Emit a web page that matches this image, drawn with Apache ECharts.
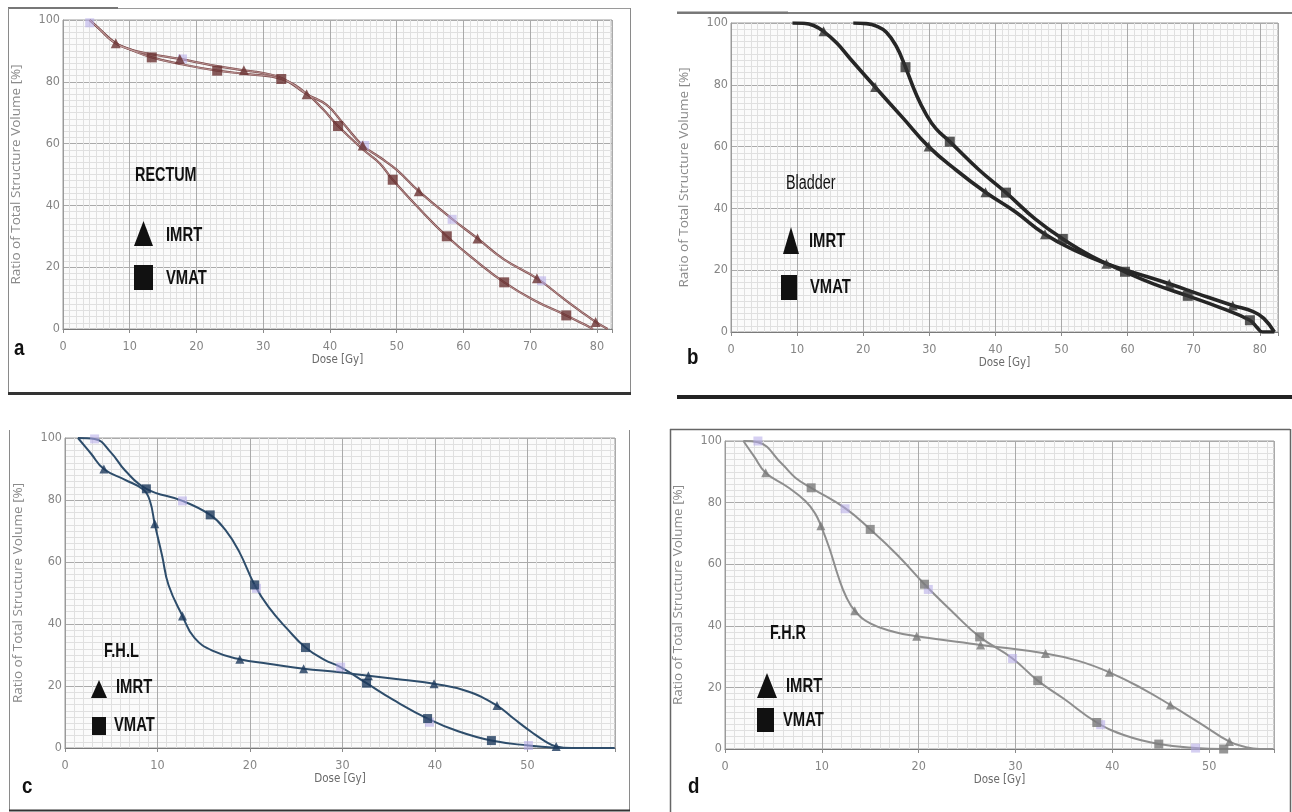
<!DOCTYPE html>
<html><head><meta charset="utf-8">
<script src="https://cdn.jsdelivr.net/npm/echarts@6/dist/echarts.min.js"></script>
<style>html,body{margin:0;padding:0;background:#fff}#c{width:1292px;height:812px}</style>
</head><body><div id="c"></div>
<script>
// ---------- DATA (Dose [Gy], Ratio of Total Structure Volume [%]) ----------
const xTicks = [0, 10, 20, 30, 40, 50, 60, 70, 80];
const yTicks = [0, 20, 40, 60, 80, 100];

// a: RECTUM
const rectumImrt = [[4,100],[5.5,97],[7.9,92.5],[10,90.5],[13,89],[17.5,87.4],[22,85.5],[27.1,83.7],[30,82.8],[33,81],[36.5,76],[39.5,72.5],[42,66.5],[44.9,59.4],[47.5,55.5],[50,51.5],[53.3,44.6],[58.3,35.6],[62.1,29.3],[66,22.6],[71,16.4],[75,9.8],[77.5,5.8],[79.8,2.3],[81.6,0]];
const rectumVmat = [[4,100],[5.5,97],[7.5,93],[10,90.5],[13.3,87.9],[18,85.6],[23.1,83.6],[28,82.4],[32.7,80.9],[36.5,76.2],[39,71],[41.2,65.7],[45,58],[47.5,53.5],[49.4,48.3],[53,39.8],[57.5,30],[62,21.8],[66.1,15.1],[70.5,9.4],[75.4,4.4],[78,1.6],[79.4,0]];
const rectumImrtMarks = [[7.9,92.5],[17.5,87.4],[27.1,83.7],[36.5,76.0],[44.9,59.4],[53.3,44.6],[62.1,29.3],[71.0,16.4],[79.8,2.3]];
const rectumVmatMarks = [[13.3,87.9],[23.1,83.6],[32.7,80.9],[41.2,65.7],[49.4,48.3],[57.5,30.0],[66.1,15.1],[75.4,4.4]];
const rectumHighlights = [[4.0,99.1],[17.9,87.4],[45.2,59.4],[58.3,35.5],[71.7,15.6]];

// b: Bladder
const bladderImrt = [[9.3,100],[11,99.9],[12.5,99.2],[14,97.3],[16,93.5],[18,88.5],[21.8,79.3],[26,69.3],[29.9,60],[34,52.5],[38.5,45.2],[43,38.9],[47.5,31.6],[52,26.4],[56.8,22.1],[61,19.2],[66.3,15.6],[71,12.1],[75.9,8.6],[79,6.6],[80.6,4.4],[82.2,0]];
const bladderVmat = [[18.5,100],[20.5,99.8],[22,99],[23.5,97],[25,92.5],[26.4,85.7],[28,77],[29.5,70.5],[31,65.8],[33.1,61.6],[37.5,52.5],[41.6,45.1],[46,36.6],[50.2,30.1],[54.5,24.6],[59.6,19.5],[64,15.5],[69.1,11.7],[74,7.9],[78.5,3.8],[79.6,1.4],[80.4,0],[82.2,0]];
const bladderImrtMarks = [[14.0,97.3],[21.8,79.3],[29.9,60.0],[38.5,45.2],[47.5,31.6],[56.8,22.1],[66.3,15.6],[75.9,8.6]];
const bladderVmatMarks = [[26.4,85.7],[33.1,61.6],[41.6,45.1],[50.2,30.1],[59.6,19.5],[69.1,11.7],[78.5,3.8]];

// c: F.H.L
const fhlImrt = [[1.4,100],[2.8,95],[4.2,90],[6.5,86.5],[8.5,83.3],[9.2,79.5],[9.7,72.3],[10.5,62],[11.2,52.5],[12.7,42.6],[14,35.5],[16,31.3],[18.9,28.6],[22,27.2],[25.8,25.6],[29.5,24.5],[32.8,23.3],[36.5,22],[39.9,20.7],[43.5,18.3],[46.7,13.7],[48.5,9.5],[50.5,5],[52,2],[53.1,0.5],[54.8,0],[59.4,0]];
const fhlVmat = [[1.4,100],[3.2,99.7],[5,95.2],[6.5,89.5],[8.8,83.6],[12.7,79.7],[15.7,75.2],[17.3,70.5],[18.8,63.5],[20.5,52.6],[22,45.5],[24,38.5],[26,32.4],[28,28.5],[29.8,26.1],[32.6,20.9],[35.5,15.5],[39.2,9.5],[42.5,5.4],[46.1,2.4],[50.1,0.8],[53,0.1],[54.5,0],[59.4,0]];
const fhlImrtMarks = [[4.2,90.0],[9.7,72.3],[12.7,42.6],[18.9,28.6],[25.8,25.6],[32.8,23.3],[39.9,20.7],[46.7,13.7],[53.1,0.5]];
const fhlVmatMarks = [[8.8,83.6],[15.7,75.2],[20.5,52.6],[26.0,32.4],[32.6,20.9],[39.2,9.5],[46.1,2.4]];
const fhlHighlights = [[3.2,99.7],[12.7,79.7],[20.7,51.5],[29.8,26.1],[39.4,8.3],[50.1,0.8]];

// d: F.H.R
const fhrImrt = [[1.9,100],[3,95],[4.2,89.7],[6.5,85],[8.3,80.5],[9.3,76.5],[9.9,72.5],[10.8,65],[11.7,56],[12.5,49.5],[13.4,44.9],[15,40.8],[17.5,38],[19.8,36.6],[26.4,33.8],[33.1,31],[36.5,28.6],[39.7,24.9],[43,19.8],[46,14.3],[49,8.5],[52.1,2.4],[53.8,0.6],[55.2,0],[56.6,0]];
const fhrVmat = [[1.9,100],[3.4,99.6],[5.9,92.5],[7.3,88],[8.9,84.8],[12.4,78.2],[15,71.3],[17.8,63],[20.6,53.5],[23.5,44.5],[26.3,36.4],[29.7,29.4],[32.3,22.2],[35,16.3],[38.4,8.6],[41.5,4.2],[44.8,1.6],[48.6,0.3],[51.5,0],[56.6,0]];
const fhrImrtMarks = [[4.2,89.7],[9.9,72.5],[13.4,44.9],[19.8,36.6],[26.4,33.8],[33.1,31.0],[39.7,24.9],[46.0,14.3],[52.1,2.4]];
const fhrVmatMarks = [[8.9,84.8],[15.0,71.3],[20.6,53.5],[26.3,36.4],[32.3,22.2],[38.4,8.6],[44.8,1.6],[51.5,0]];
const fhrHighlights = [[3.4,100],[12.4,78],[21.0,51.8],[29.7,29.4],[38.8,7.9],[48.6,0.3]];

// ---------- LAYOUT / STYLE ----------
const panels = [
  {grid:{left:63, top:20, width:549, height:309}, xMax:82.25, line:'#7f4d4d', lw:2.2, mark:'#6a3232', ms:10,
   imrt:rectumImrt, vmat:rectumVmat, im:rectumImrtMarks, vm:rectumVmatMarks, hl:rectumHighlights},
  {grid:{left:731, top:23, width:547, height:309}, xMax:82.75, line:'#262626', lw:3.6, mark:'#303030', ms:10,
   imrt:bladderImrt, vmat:bladderVmat, im:bladderImrtMarks, vm:bladderVmatMarks, hl:[]},
  {grid:{left:65, top:438, width:550, height:310}, xMax:59.46, line:'#2e4d6b', lw:2, mark:'#1d3a5c', ms:9,
   imrt:fhlImrt, vmat:fhlVmat, im:fhlImrtMarks, vm:fhlVmatMarks, hl:fhlHighlights},
  {grid:{left:725, top:441, width:549, height:308}, xMax:56.7, line:'#8e8e8e', lw:2, mark:'#7a7a7a', ms:9,
   imrt:fhrImrt, vmat:fhrVmat, im:fhrImrtMarks, vm:fhrVmatMarks, hl:fhrHighlights}
];

const tickFont = "'DejaVu Sans Condensed','Liberation Sans Narrow',sans-serif";
const grids = [], xAxes = [], yAxes = [], series = [];
panels.forEach((p, i) => {
  grids.push(Object.assign({show:true, borderColor:'#9c9c9c', borderWidth:1, backgroundColor:'#fbfbfb'}, p.grid));
  xAxes.push({
    type:'value', gridIndex:i, min:0, max:p.xMax, interval:10,
    name:'Dose [Gy]', nameLocation:'middle', nameGap:25,
    nameTextStyle:{color:'#6a6a6a', fontSize:11.5, fontFamily:tickFont},
    axisLine:{show:true, onZero:false, lineStyle:{color:'#7a7a7a', width:1.2}},
    axisTick:{show:true, length:4, lineStyle:{color:'#8a8a8a'}},
    axisLabel:{color:'#858585', fontSize:12.5, margin:11, fontFamily:tickFont,
      formatter: v => (xTicks.indexOf(Math.round(v*1000)/1000) >= 0 ? String(v) : '')},
    splitLine:{show:true, lineStyle:{color:'#aaaaaa', width:1}},
    minorTick:{show:false, splitNumber:10},
    minorSplitLine:{show:true, lineStyle:{color:'#e0e0e0', width:1}}
  });
  yAxes.push({
    type:'value', gridIndex:i, min:0, max:100, interval:20,
    name:'Ratio of Total Structure Volume [%]', nameLocation:'middle', nameGap:40,
    nameTextStyle:{color:'#8a8a8a', fontSize:13.5, fontFamily:"'Open Sans',sans-serif"},
    axisLine:{show:true, lineStyle:{color:'#9a9a9a'}},
    axisTick:{show:false},
    axisLabel:{color:'#858585', fontSize:12.5, margin:3, fontFamily:tickFont,
      formatter: v => (yTicks.indexOf(v) >= 0 ? String(v) : '')},
    splitLine:{show:true, lineStyle:{color:'#aaaaaa', width:1}},
    minorTick:{show:false, splitNumber:10},
    minorSplitLine:{show:true, lineStyle:{color:'#e0e0e0', width:1}}
  });
  const lineBase = {type:'line', xAxisIndex:i, yAxisIndex:i, smooth:0.45,
    showSymbol:false, symbol:'none', silent:true, z:3};
  series.push(Object.assign({}, lineBase, {name:'IMRT', data:p.imrt, lineStyle:{color:p.line, width:p.lw}}));
  series.push(Object.assign({}, lineBase, {name:'VMAT', data:p.vmat, lineStyle:{color:p.line, width:p.lw}}));
  if (i === 0) {
    series.push(Object.assign({}, lineBase, {name:'IMRT core', data:p.imrt, z:4, lineStyle:{color:'#caa7a7', width:0.8}}));
    series.push(Object.assign({}, lineBase, {name:'VMAT core', data:p.vmat, z:4, lineStyle:{color:'#caa7a7', width:0.8}}));
  }
  series.push({type:'scatter', xAxisIndex:i, yAxisIndex:i, data:p.hl, symbol:'rect', symbolSize:9, z:5,
    itemStyle:{color:'rgba(180,170,232,0.7)'}});
  series.push({type:'scatter', xAxisIndex:i, yAxisIndex:i, data:p.im, symbol:'triangle', symbolSize:p.ms, z:6,
    itemStyle:{color:p.mark}});
  series.push({type:'scatter', xAxisIndex:i, yAxisIndex:i, data:p.vm, symbol:'rect', symbolSize:p.ms, z:6,
    itemStyle:{color:p.mark}});
});

// ---------- annotations ----------
const boldFont = "bold 20px 'Liberation Sans', Arial, sans-serif";
function txt(t, x, y, font, sx) {
  return {type:'text', x:x, y:y, scaleX:sx, z:100,
    style:{text:t, font:font, fill:'#111', verticalAlign:'middle', textVerticalAlign:'middle', align:'left'}};
}
function tri(x1, y1, x2, y2) {
  return {type:'polygon', z:100, shape:{points:[[(x1+x2)/2, y1],[x2, y2],[x1, y2]]}, style:{fill:'#111'}};
}
function sq(x1, y1, x2, y2) {
  return {type:'rect', z:100, shape:{x:x1, y:y1, width:x2-x1, height:y2-y1}, style:{fill:'#111'}};
}
function ln(x1, y1, x2, y2, w, c) {
  return {type:'line', z:100, shape:{x1:x1, y1:y1, x2:x2, y2:y2}, style:{stroke:c, lineWidth:w}};
}
const graphics = [
  // panel a
  txt('RECTUM', 135, 175, boldFont, 0.72), tri(134, 221, 153, 246), txt('IMRT', 166, 235, boldFont, 0.74),
  sq(134, 265, 153, 290), txt('VMAT', 166, 278, boldFont, 0.74),
  // panel b
  txt('Bladder', 786, 183, "20px 'Liberation Sans', Arial, sans-serif", 0.72), tri(783, 227, 799, 254), txt('IMRT', 809, 241, boldFont, 0.74),
  sq(781, 275, 797, 300), txt('VMAT', 810, 287, boldFont, 0.74),
  // panel c
  txt('F.H.L', 104, 651, boldFont, 0.73), tri(91, 680, 107, 698), txt('IMRT', 116, 687, boldFont, 0.74),
  sq(92, 717, 106, 735), txt('VMAT', 114, 725, boldFont, 0.74),
  // panel d
  txt('F.H.R', 770, 633, boldFont, 0.72), tri(757, 673, 777, 698), txt('IMRT', 786, 686, boldFont, 0.74),
  sq(757, 708, 774, 732), txt('VMAT', 783, 720, boldFont, 0.74),
  // panel letters
  txt('a', 14, 349, "bold 22px 'Liberation Sans', Arial, sans-serif", 0.85),
  txt('b', 687, 358, "bold 22px 'Liberation Sans', Arial, sans-serif", 0.85),
  txt('c', 22, 787, "bold 22px 'Liberation Sans', Arial, sans-serif", 0.85),
  txt('d', 688, 787, "bold 22px 'Liberation Sans', Arial, sans-serif", 0.85),
  // frames
  ln(8, 8.5, 630, 8.5, 1, '#9a9a9a'), ln(8, 8, 118, 8, 2, '#777'),
  ln(8.5, 8, 8.5, 394, 1, '#8a8a8a'), ln(630.5, 8, 630.5, 394, 1, '#8a8a8a'),
  ln(8, 393.5, 631, 393.5, 3, '#333'),
  ln(677, 13, 1292, 13, 1.5, '#555'), ln(677, 12.5, 788, 12.5, 2, '#777'),
  ln(677, 397, 1292, 397, 4, '#222'),
  ln(9.5, 430, 9.5, 811, 1, '#8a8a8a'), ln(629.5, 430, 629.5, 811, 1, '#8a8a8a'),
  ln(9, 810.5, 630, 810.5, 2, '#333'),
  ln(670, 429.5, 1290, 429.5, 1.5, '#666'), ln(670.5, 429, 670.5, 812, 1.5, '#666'), ln(1290.5, 429, 1290.5, 812, 1.5, '#666')
];

const chart = echarts.init(document.getElementById('c'), null, {renderer:'canvas'});
chart.setOption({
  backgroundColor:'#ffffff',
  animation:false,
  grid:grids, xAxis:xAxes, yAxis:yAxes, series:series,
  graphic:graphics
});
</script>
</body></html>
